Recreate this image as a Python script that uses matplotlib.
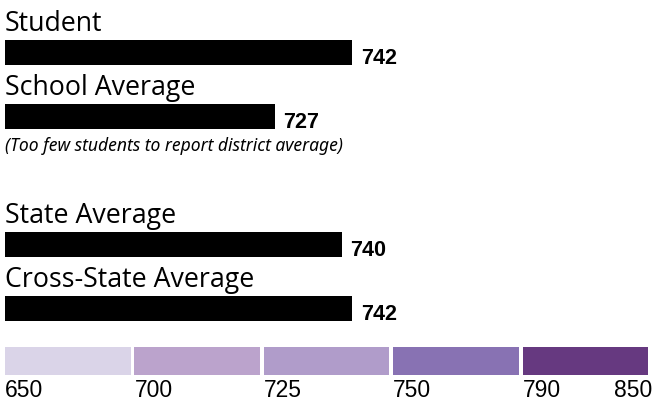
import matplotlib
matplotlib.use('Agg')
import matplotlib.pyplot as plt

# scores per group (district has too few students -> None)
categories = ['Student', 'School Average', 'District Average', 'State Average', 'Cross-State Average']
scores = [742, 727, None, 740, 742]
district_note = '(Too few students to report district average)'

# achievement level scale shown under the bars
legend_breaks = ['650', '700', '725', '750', '790', '850']
legend_colors = ['#dad4e8', '#bba3cc', '#b09cca', '#8872b3', '#663980']

W, H = 653, 402
fig = plt.figure(figsize=(W / 100, H / 100), dpi=100)

# bars
ax = fig.add_axes([5 / W, (H - 340) / H, 643 / W, 340 / H])
base = 675
ax.set_xlim(base, 799)
ax.set_ylim(4.484, -0.837)
ax.axis('off')

bar_h = 0.39
for i, (name, val) in enumerate(zip(categories, scores)):
    if val is None:
        ax.text(base, i - 0.474, district_note, ha='left', va='baseline',
                fontsize=12.6, style='italic', family='Noto Sans')
        continue
    ax.barh(i, val - base, left=base, height=bar_h, color='black')
    ax.text(base, i - 0.345, name, ha='left', va='baseline',
            fontsize=19.3, family='Open Sans')
    ax.annotate(str(val), xy=(val, i + 0.165), xytext=(6, 0),
                textcoords='offset points', ha='left', va='baseline',
                fontsize=15.5, fontweight='bold', family='Liberation Sans')

# legend strip
lax = fig.add_axes([5 / W, (H - 376) / H, 647 / W, 28 / H])
n = len(legend_colors)
lax.bar(range(n), [1] * n, width=0.97, align='edge', color=legend_colors)
lax.set_xlim(0, n)
lax.set_ylim(0, 1)
for s in lax.spines.values():
    s.set_visible(False)
lax.set_yticks([])
lax.set_xticks(range(n + 1), legend_breaks)
lax.tick_params(axis='x', length=0, pad=2.5, labelsize=16.5)
for i, lbl in enumerate(lax.get_xticklabels()):
    lbl.set_family('Liberation Sans')
    lbl.set_horizontalalignment('right' if i == n else 'left')

fig.savefig('out.png', dpi=100)
